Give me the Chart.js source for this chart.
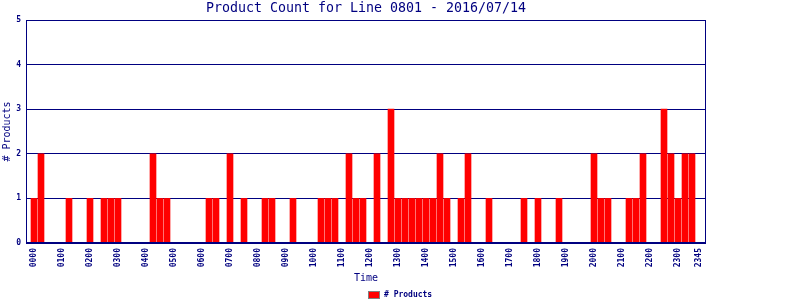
<!DOCTYPE html>
<html><head><meta charset="utf-8">
<script src="https://cdn.jsdelivr.net/npm/chart.js@4/dist/chart.umd.min.js"></script>
<style>html,body{margin:0;padding:0;background:#fff}canvas{display:block}</style>
</head><body>
<canvas id="c" width="800" height="300"></canvas>
<script>
const chartTitle = 'Product Count for Line 0801 - 2016/07/14';
const seriesLabel = '# Products';
const xAxisTitle = 'Time';
const yAxisTitle = '# Products';

const timeSlots = [
  '0000','0015','0030','0045','0100','0115','0130','0145','0200','0215','0230','0245',
  '0300','0315','0330','0345','0400','0415','0430','0445','0500','0515','0530','0545',
  '0600','0615','0630','0645','0700','0715','0730','0745','0800','0815','0830','0845',
  '0900','0915','0930','0945','1000','1015','1030','1045','1100','1115','1130','1145',
  '1200','1215','1230','1245','1300','1315','1330','1345','1400','1415','1430','1445',
  '1500','1515','1530','1545','1600','1615','1630','1645','1700','1715','1730','1745',
  '1800','1815','1830','1845','1900','1915','1930','1945','2000','2015','2030','2045',
  '2100','2115','2130','2145','2200','2215','2230','2245','2300','2315','2330','2345'
];

const productCounts = [
  1,2,0,0, 0,1,0,0, 1,0,1,1, 1,0,0,0,
  0,2,1,1, 0,0,0,0, 0,1,1,0, 2,0,1,0,
  0,1,1,0, 0,1,0,0, 0,1,1,1, 0,2,1,1,
  0,2,0,3, 1,1,1,1, 1,1,2,1, 0,1,2,0,
  0,1,0,0, 0,0,1,0, 1,0,0,1, 0,0,0,0,
  2,1,1,0, 0,1,1,2, 0,0,3,2, 1,2,2,0
];

const xTickLabels = ['0000','0100','0200','0300','0400','0500','0600','0700','0800','0900','1000','1100',
  '1200','1300','1400','1500','1600','1700','1800','1900','2000','2100','2200','2300','2345'];
const yTickValues = [0,1,2,3,4,5];

const NAVY = '#000080';
const RED = '#ff0000';
const MONO = '"DejaVu Sans Mono", "Liberation Mono", monospace';

const framePlugin = {
  id: 'frameAndLegend',
  afterDatasetsDraw(chart) {
    const {ctx, chartArea: {left, top, right, bottom}} = chart;
    const l = Math.round(left), t = Math.round(top), r = Math.round(right), b = Math.round(bottom);
    ctx.save();
    ctx.strokeStyle = NAVY;
    ctx.lineWidth = 1;
    ctx.strokeRect(l + 0.5, t + 0.5, r - l - 1, b - t - 1);
    ctx.restore();
  },
  afterDraw(chart) {
    const ctx = chart.ctx;
    const ds = chart.data.datasets[0];
    ctx.save();
    ctx.font = 'bold 8px ' + MONO;
    const tw = ctx.measureText(ds.label).width;
    const boxW = 12, boxH = 8, gap = 4;
    const total = boxW + gap + tw;
    const x0 = Math.round(chart.width / 2 - total / 2);
    const y0 = 291;
    ctx.fillStyle = ds.backgroundColor;
    ctx.fillRect(x0, y0, boxW, boxH);
    ctx.strokeStyle = '#808080';
    ctx.lineWidth = 1;
    ctx.strokeRect(x0 + 0.5, y0 + 0.5, boxW - 1, boxH - 1);
    ctx.fillStyle = NAVY;
    ctx.textBaseline = 'middle';
    ctx.textAlign = 'left';
    ctx.fillText(ds.label, x0 + boxW + gap, y0 + boxH / 2);
    ctx.restore();
  }
};

new Chart(document.getElementById('c'), {
  type: 'bar',
  data: {
    datasets: [{
      label: seriesLabel,
      data: productCounts.map((v, i) => ({x: i, y: v})),
      backgroundColor: RED,
      borderWidth: 0,
      barThickness: 6
    }]
  },
  options: {
    responsive: false,
    animation: false,
    layout: {padding: {left: 0, right: 94, top: 0, bottom: 0}},
    plugins: {
      legend: {display: false},
      tooltip: {enabled: false},
      title: {
        display: true,
        text: chartTitle,
        color: NAVY,
        fullSize: false,
        font: {family: MONO, size: 13.3, weight: 'normal', lineHeight: '16px'},
        padding: {top: 1, bottom: 3}
      }
    },
    scales: {
      x: {
        type: 'linear',
        offset: false,
        min: -8 / 7,
        max: 96,
        grid: {display: false, drawTicks: false, offset: false},
        border: {display: false},
        afterBuildTicks(scale) {
          scale.ticks = xTickLabels.map(l => ({value: timeSlots.indexOf(l)}));
        },
        afterFit(scale) { scale.height = 57; },
        ticks: {
          autoSkip: false,
          minRotation: 90,
          maxRotation: 90,
          padding: 5,
          color: NAVY,
          font: {family: MONO, size: 8, weight: 'bold'},
          callback: (v) => timeSlots[v]
        },
        title: {
          display: true,
          text: xAxisTitle,
          color: NAVY,
          font: {family: MONO, size: 10, weight: 'normal', lineHeight: 1.2},
          padding: {top: 0, bottom: 16}
        }
      },
      y: {
        min: 0,
        max: 5,
        grid: {color: NAVY, lineWidth: 1, drawTicks: false},
        border: {display: false},
        afterBuildTicks(scale) {
          scale.ticks = yTickValues.map(v => ({value: v}));
        },
        afterFit(scale) { scale.width = 26; },
        ticks: {
          padding: 5,
          color: NAVY,
          font: {family: MONO, size: 8, weight: 'bold'}
        },
        title: {
          display: true,
          text: yAxisTitle,
          color: NAVY,
          font: {family: MONO, size: 10, weight: 'normal', lineHeight: 1.2},
          padding: {top: 1, bottom: 0}
        }
      }
    }
  },
  plugins: [framePlugin]
});
</script>
</body></html>
